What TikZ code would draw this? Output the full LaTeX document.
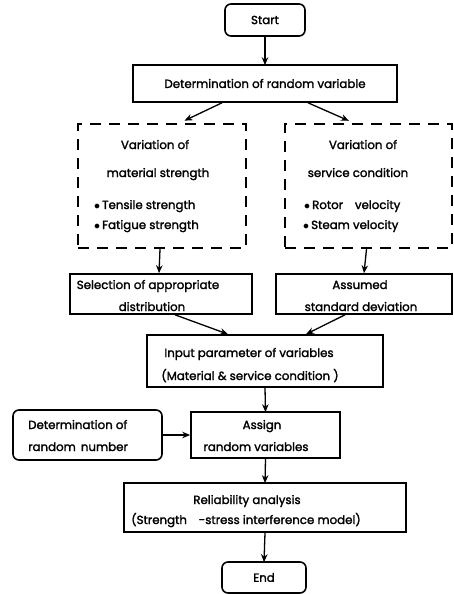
\documentclass[tikz,border=0pt]{standalone}
\usepackage{fontspec}
\setmainfont{Poppins}[FakeBold=1.8]
\usetikzlibrary{arrows.meta,calc}
\begin{document}
\begin{tikzpicture}[x=1pt,y=-1pt,
  every node/.style={font=\fontsize{11.8}{14}\selectfont},
  box/.style={draw,line width=1.6pt,inner sep=0pt,align=center},
  rbox/.style={box,rounded corners=6pt},
  dbox/.style={draw,line width=2.4pt,dash pattern=on 11pt off 8pt,inner sep=0pt},
  txt/.style={inner sep=0pt,anchor=base},
  ltxt/.style={inner sep=0pt,anchor=base west},
  arr/.style={line width=1.3pt,-{Stealth[length=8pt,width=6.5pt]}}]
\useasboundingbox (0,0) rectangle (454,594);
\node[rbox,minimum width=80pt,minimum height=32pt] (start) at (265,20) {Start};
\node[box,minimum width=264pt,minimum height=37pt] (det) at (265,83.5) {Determination of random variable};
\node[dbox,minimum width=168pt,minimum height=124pt] (ld) at (162,186) {};
\node[dbox,minimum width=167pt,minimum height=124pt] (rd) at (368.5,186) {};
\node[txt] (l1) at (155,149) {Variation of};
\node[txt] (l2) at (158,177) {material strength};
\node[ltxt] (l3) at (94,209) {$\bullet$\,Tensile strength};
\node[ltxt] (l4) at (94,229) {$\bullet$\,Fatigue strength};
\node[txt] (r1) at (363,149) {Variation of};
\node[txt] (r2) at (358,177) {service condition};
\node[ltxt] (r3) at (304,209) {$\bullet$\,Rotor\quad velocity};
\node[ltxt] (r4) at (303,229) {$\bullet$\,Steam velocity};
\node[box,minimum width=182pt,minimum height=40pt] (sel) at (161,294) {};
\node[txt] (s1) at (148,289) {Selection of appropriate};
\node[txt] (s2) at (152,311) {distribution};
\node[box,minimum width=176pt,minimum height=40pt] (ass) at (364,294) {};
\node[txt] (a1) at (360,289) {Assumed};
\node[txt] (a2) at (361,311) {standard deviation};
\node[box,minimum width=236pt,minimum height=52pt] (inp) at (265,361) {};
\node[txt] (i1) at (249,357) {Input parameter of variables};
\node[txt] (i2) at (250,380) {(Material \& service condition )};
\node[rbox,minimum width=149pt,minimum height=50pt] (drn) at (87.5,435) {};
\node[ltxt] (d1) at (28,429) {Determination of};
\node[ltxt] (d2) at (28,451) {random\, number};
\node[box,minimum width=149pt,minimum height=46pt] (asg) at (265.5,435) {};
\node[txt] (g1) at (262,429) {Assign};
\node[txt] (g2) at (256,451) {random variables};
\node[box,minimum width=282pt,minimum height=49pt] (rel) at (265,507.5) {};
\node[txt] (e1) at (247,504) {Reliability analysis};
\node[txt] (e2) at (246,524) {(Strength\quad -stress interference model)};
\node[rbox,minimum width=84pt,minimum height=31pt] (end) at (264,577.5) {End};
\draw[arr] (start.south) -- ([yshift=-1pt]det.north);
\draw[arr,shorten >=5pt] ([xshift=-43pt]det.south) -- ([xshift=18pt]ld.north);
\draw[arr,shorten >=5pt] ([xshift=43pt]det.south) -- ([xshift=-15pt]rd.north);
\draw[arr] ([xshift=-2pt]ld.south) -- ([xshift=-2pt]sel.north);
\draw[arr] ([xshift=-2pt]rd.south) -- ([xshift=0pt]ass.north);
\draw[arr] ([xshift=14pt]sel.south) -- ([xshift=-37pt]inp.north);
\draw[arr] ([xshift=-19pt]ass.south) -- ([xshift=41pt]inp.north);
\draw[arr] (inp.south) -- ([yshift=-1pt]asg.north);
\draw[arr] (drn.east) -- (asg.west);
\draw[arr] (asg.south) -- ([yshift=-1pt]rel.north);
\draw[arr] (rel.south) -- ([yshift=-1pt]end.north);
\end{tikzpicture}
\end{document}
